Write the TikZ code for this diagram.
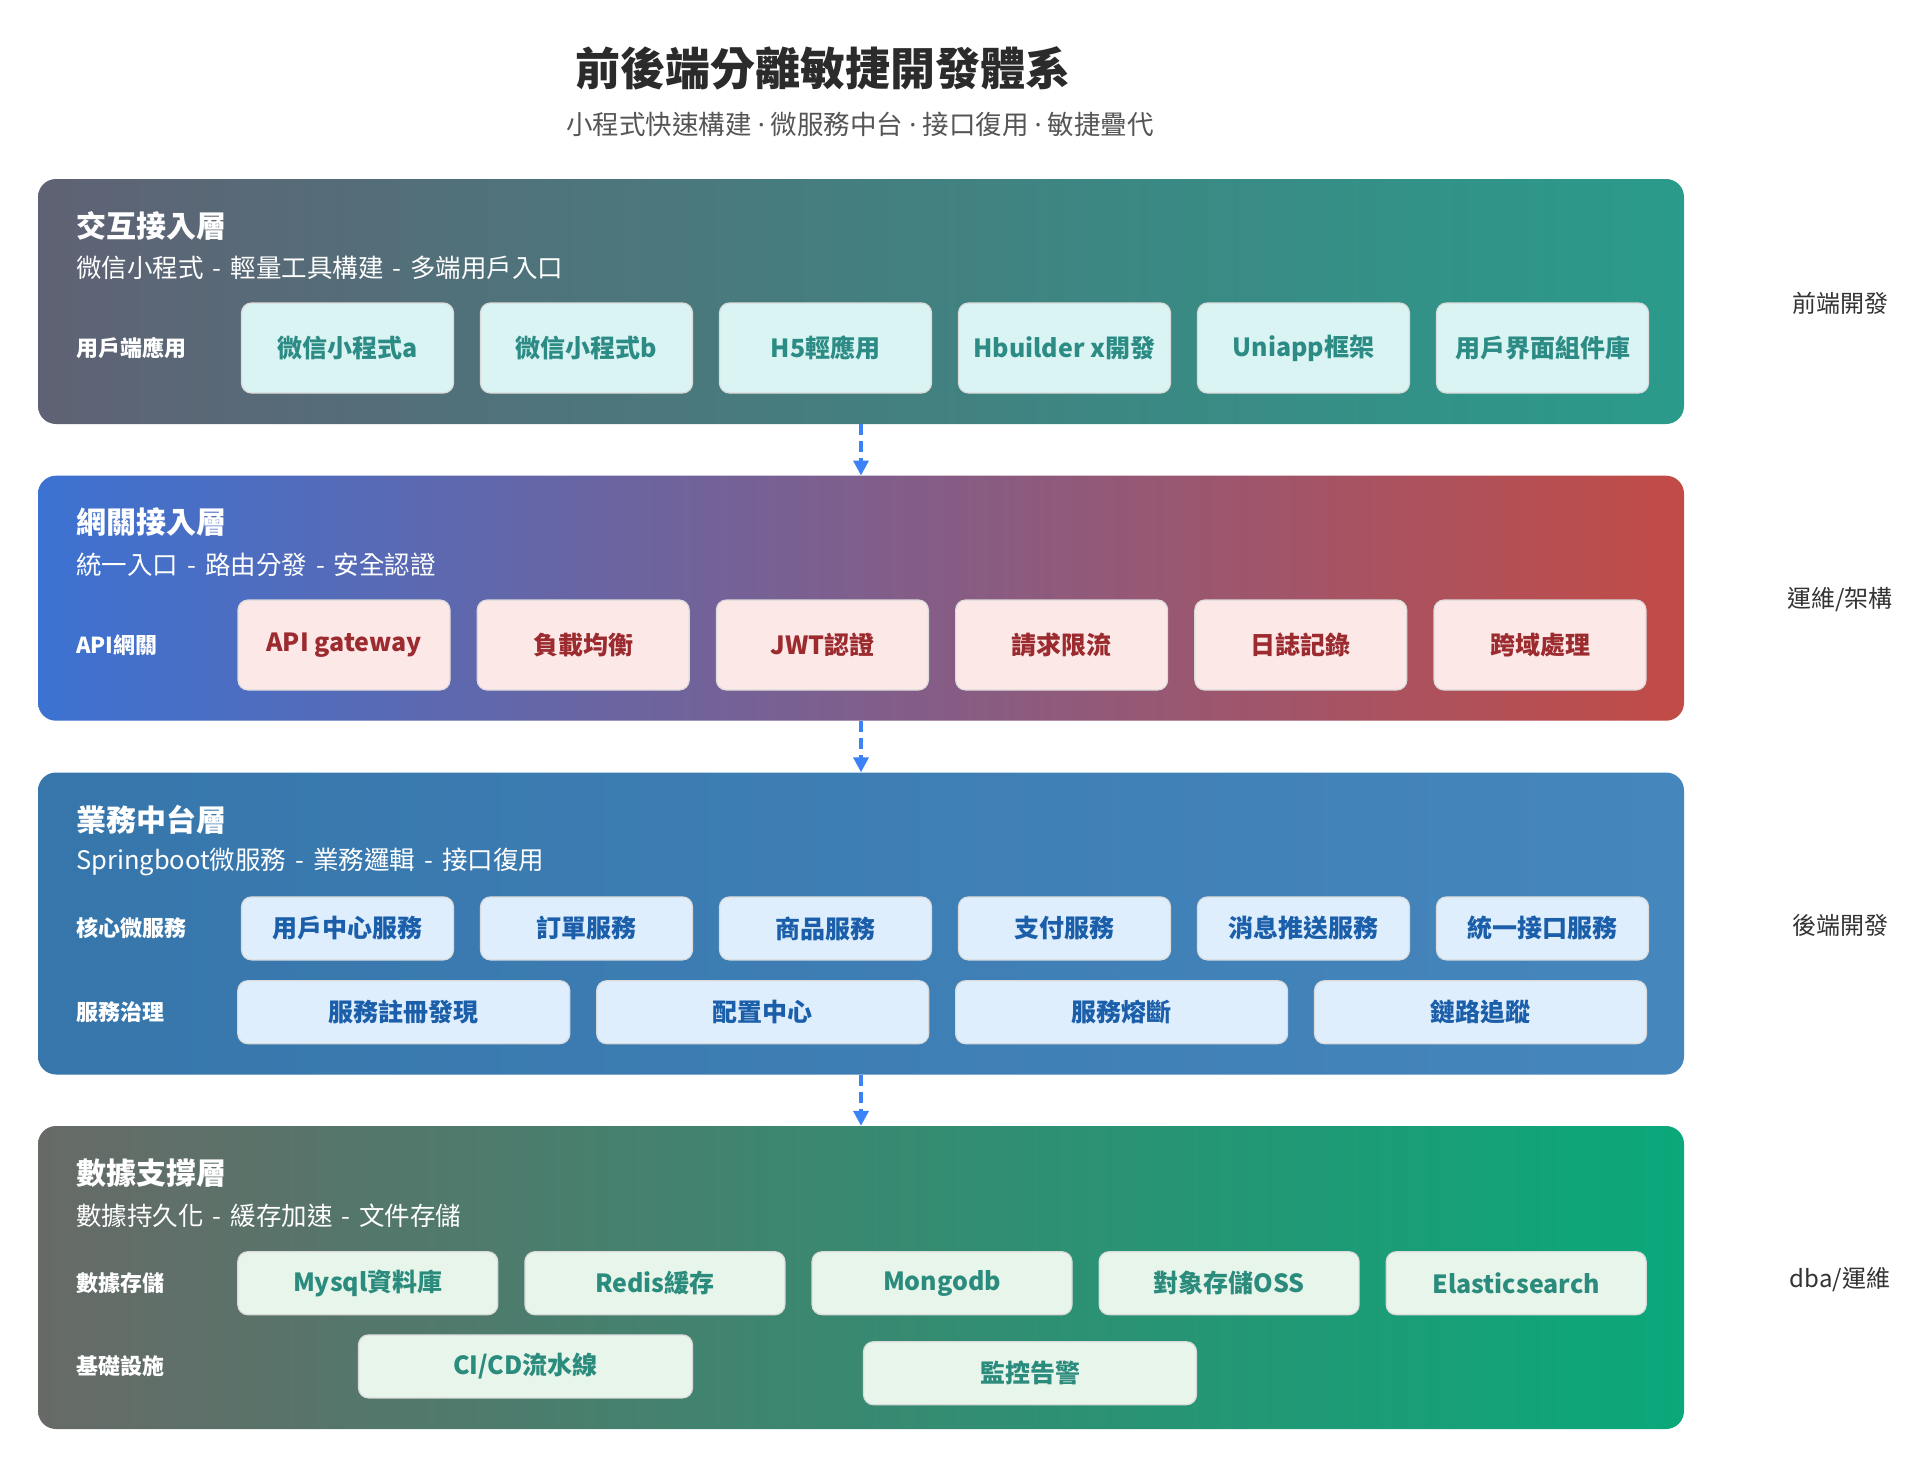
\documentclass[tikz,border=0pt]{standalone}
\usepackage{fontspec}
\setmainfont{Noto Sans CJK TC}
\newfontfamily\latinf{Noto Sans}
\usetikzlibrary{arrows.meta}
\definecolor{l1a}{HTML}{5F6274}
\definecolor{l1b}{HTML}{2A9B8B}
\definecolor{l2a}{HTML}{3C72D2}
\definecolor{l2b}{HTML}{C24B46}
\definecolor{l3a}{HTML}{3676AB}
\definecolor{l3b}{HTML}{4586BD}
\definecolor{l4a}{HTML}{676A67}
\definecolor{l4b}{HTML}{0AA87A}
\definecolor{b1f}{HTML}{D9F4F3}
\definecolor{b1t}{HTML}{2C8C85}
\definecolor{b2f}{HTML}{FDE8E8}
\definecolor{b2t}{HTML}{9C2B2F}
\definecolor{b3f}{HTML}{DEEEFD}
\definecolor{b3t}{HTML}{1B5EA9}
\definecolor{b4f}{HTML}{E7F5EA}
\definecolor{b4t}{HTML}{2B8B7D}
\definecolor{flowc}{HTML}{3B82F6}
\definecolor{sidec}{HTML}{333333}
\definecolor{titlec}{HTML}{2B2B2B}
\definecolor{subc}{HTML}{555555}
\newcommand\sepdot{\hspace{6pt}{\latinf ·}\hspace{6pt}}
\newcommand\sepdash{\hspace{9pt}-\hspace{9pt}}
\tikzset{
  layerbox/.style={rounded corners=18pt, inner sep=0pt, draw=none},
  ltitle/.style={anchor=west, text=white, font=\bfseries\fontsize{30}{34}\selectfont, inner sep=0pt},
  lsub/.style={anchor=west, text=white, font=\fontsize{25.5}{30}\selectfont, inner sep=0pt},
  rowlab/.style={anchor=west, text=white, font=\bfseries\fontsize{22}{26}\selectfont, inner sep=0pt},
  cbox/.style={rounded corners=10pt, inner sep=0pt, font=\bfseries\fontsize{25}{30}\selectfont, draw=black!14, line width=1.2pt},
  b1/.style={cbox, fill=b1f, text=b1t, minimum width=212pt, minimum height=90pt},
  b2/.style={cbox, fill=b2f, text=b2t, minimum width=212pt, minimum height=90pt},
  b3/.style={cbox, fill=b3f, text=b3t, minimum height=63pt},
  b4/.style={cbox, fill=b4f, text=b4t, minimum height=63pt},
  sidelab/.style={text=sidec, font=\fontsize{24}{28}\selectfont, inner sep=0pt},
  flow/.style={draw=flowc, line width=3.5pt, dash pattern=on 11pt off 6pt, -{Triangle[width=15pt,length=15pt]}}
}
\begin{document}
\begin{tikzpicture}[x=1pt,y=-1pt]
\useasboundingbox[fill=white] (0,0) rectangle (1932,1467);

% title
\node[text=titlec, font=\bfseries\fontsize{45}{50}\selectfont] (title) at (823,68) {前後端分離敏捷開發體系};
\node[text=subc, font=\fontsize{26.5}{30}\selectfont] (subtitle) at (860,124) {小程式快速構建\sepdot 微服務中台\sepdot 接口復用\sepdot 敏捷疊代};

% layers
\node[layerbox, left color=l1a, right color=l1b, minimum width=1646pt, minimum height=245pt] (L1) at (861,301.5) {};
\node[layerbox, left color=l2a, right color=l2b, minimum width=1646pt, minimum height=245pt] (L2) at (861,598.2) {};
\node[layerbox, left color=l3a, right color=l3b, minimum width=1646pt, minimum height=302pt] (L3) at (861,923.5) {};
\node[layerbox, left color=l4a, right color=l4b, minimum width=1646pt, minimum height=303pt] (L4) at (861,1277.5) {};

% layer 1
\node[ltitle] (t1) at (76,225.5) {交互接入層};
\node[lsub] (s1) at (76,267.5) {微信小程式\sepdash 輕量工具構建\sepdash 多端用戶入口};
\node[rowlab] (r1) at (76,348) {用戶端應用};
\foreach \i/\t in {0/微信小程式a,1/微信小程式b,2/H5輕應用,3/Hbuilder x開發,4/Uniapp框架,5/用戶界面組件庫}
  \node[b1] (a\i) at ({347.5+\i*239},348) {\t};

% layer 2
\node[ltitle] (t2) at (76,522.5) {網關接入層};
\node[lsub] (s2) at (76,564.5) {統一入口\sepdash 路由分發\sepdash 安全認證};
\node[rowlab] (r2) at (76,645) {API網關};
\foreach \i/\t in {0/API gateway,1/負載均衡,2/JWT認證,3/請求限流,4/日誌記錄,5/跨域處理}
  \node[b2] (g\i) at ({344+\i*239.2},645) {\t};

% layer 3
\node[ltitle] (t3) at (76,819.5) {業務中台層};
\node[lsub] (s3) at (76,861.5) {Springboot微服務\sepdash 業務邏輯\sepdash 接口復用};
\node[rowlab] (r3a) at (76,928.4) {核心微服務};
\foreach \i/\t in {0/用戶中心服務,1/訂單服務,2/商品服務,3/支付服務,4/消息推送服務,5/統一接口服務}
  \node[b3, minimum width=212pt] (m\i) at ({347.5+\i*239},928.4) {\t};
\node[rowlab] (r3b) at (76,1012.2) {服務治理};
\foreach \i/\t in {0/服務註冊發現,1/配置中心,2/服務熔斷,3/鏈路追蹤}
  \node[b3, minimum width=332pt] (n\i) at ({403.8+\i*358.9},1012.2) {\t};

% layer 4
\node[ltitle] (t4) at (76,1173) {數據支撐層};
\node[lsub] (s4) at (76,1216) {數據持久化\sepdash 緩存加速\sepdash 文件存儲};
\node[rowlab] (r4a) at (76,1283.2) {數據存儲};
\foreach \i/\t in {0/Mysql資料庫,1/Redis緩存,2/Mongodb,3/對象存儲OSS,4/Elasticsearch}
  \node[b4, minimum width=260pt] (d\i) at ({367.8+\i*287.1},1283.2) {\t};
\node[rowlab] (r4b) at (76,1366.4) {基礎設施};
\node[b4, minimum width=334pt] (ci) at (525.5,1366.4) {CI/CD流水線};
\node[b4, minimum width=333pt] (mon) at (1030,1373.2) {監控告警};

% side labels
\node[sidelab] (x1) at (1840,303) {前端開發};
\node[sidelab] (x2) at (1840,600) {運維/架構};
\node[sidelab] (x3) at (1840,925.3) {後端開發};
\node[sidelab] (x4) at (1840,1280) {dba/運維};

% arrows
\draw[flow] (L1.south) -- (L2.north);
\draw[flow] (L2.south) -- (L3.north);
\draw[flow] (L3.south) -- (L4.north);
\end{tikzpicture}
\end{document}
